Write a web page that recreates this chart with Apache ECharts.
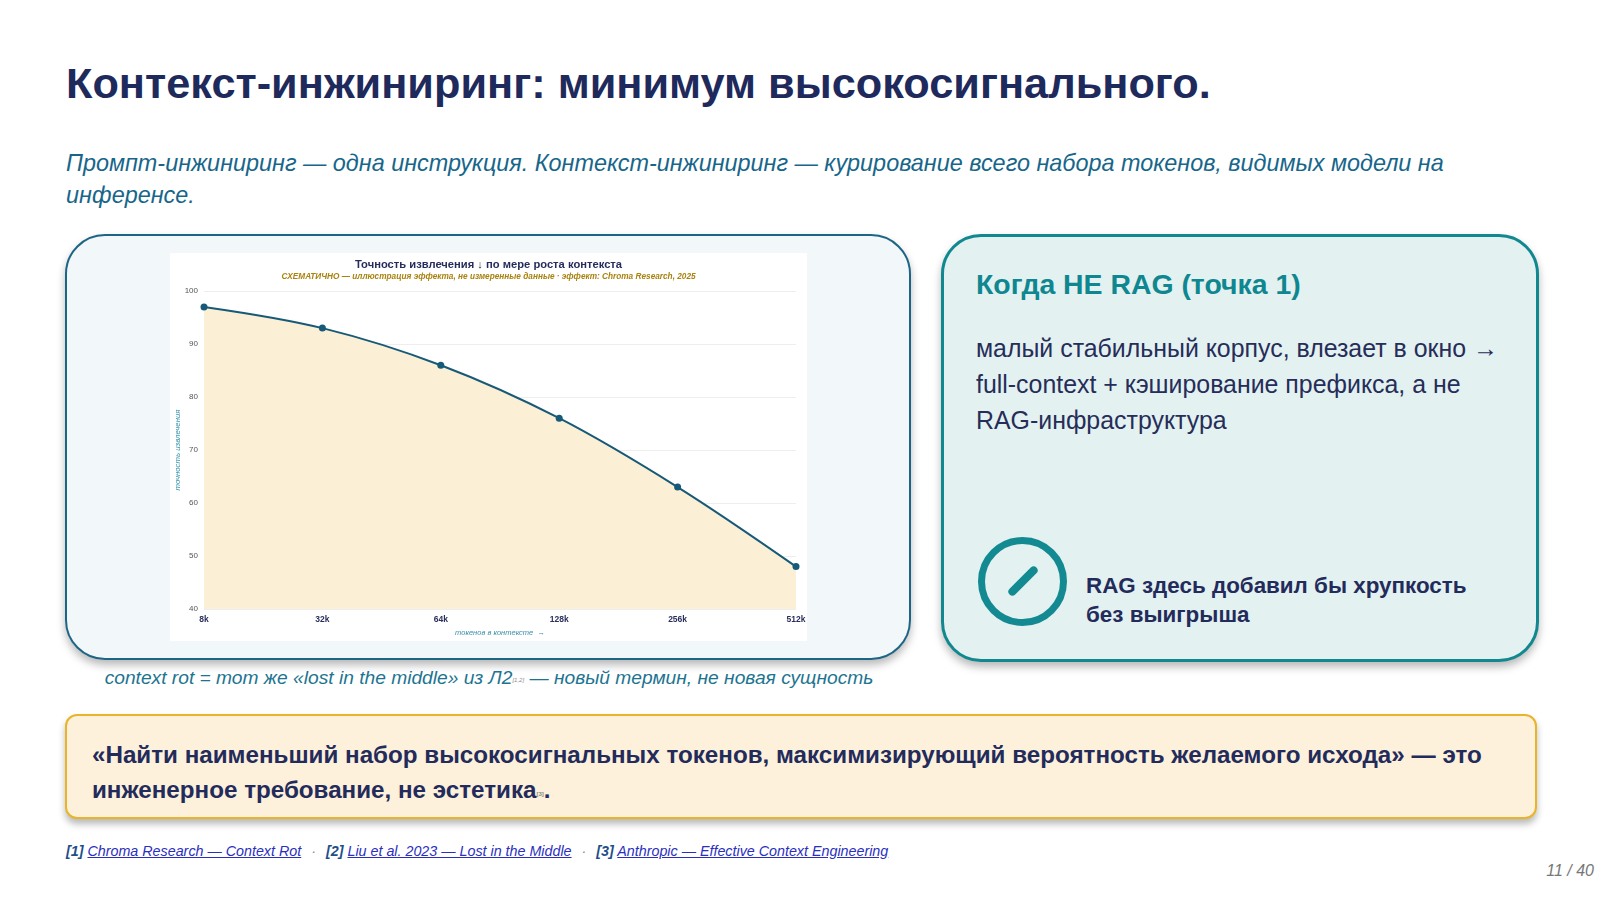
<!DOCTYPE html>
<html>
<head>
<meta charset="utf-8">
<script src="https://cdn.jsdelivr.net/npm/echarts@6/dist/echarts.min.js"></script>
<style>
  html, body { margin: 0; padding: 0; background: #fff; }
  body { width: 1600px; height: 900px; position: relative; overflow: hidden;
         font-family: "Liberation Sans", Arial, sans-serif; }
  .abs { position: absolute; white-space: nowrap; }
  #title { left: 66px; top: 59px; font-size: 43.3px; font-weight: bold; color: #1f2a5c; }
  #lead { left: 66px; top: 147px; font-size: 23.4px; font-style: italic; color: #17668a; line-height: 32px; }
  #cardL { left: 65px; top: 234px; width: 842px; height: 422px; border: 2.5px solid #1d6585;
           border-radius: 40px; background: #f2f7fa; box-shadow: 0 5px 8px rgba(0,0,0,0.28); }
  #chart { left: 170px; top: 253px; width: 637px; height: 388px; background: #fff; }
  #cap { left: 0; width: 978px; text-align: center; top: 667px; font-size: 19.2px; font-style: italic; color: #1d7490; }
  #cardR { left: 941px; top: 234px; width: 592px; height: 422px; border: 3px solid #118890;
           border-radius: 40px; background: #e3f1f1; box-shadow: 0 5px 8px rgba(0,0,0,0.28); }
  #rh { left: 976px; top: 268px; font-size: 28.4px; font-weight: bold; color: #0f8790; }
  #rb { left: 976px; top: 330px; font-size: 24.9px; color: #262d58; line-height: 36px; }
  #icon { left: 978px; top: 537px; width: 75px; height: 75px; border: 7px solid #138a92; border-radius: 50%; }
  #slash { left: 1018.5px; top: 562px; width: 8px; height: 38px; background: #138a92; border-radius: 4px;
           transform: rotate(45deg); }
  #it { left: 1086px; top: 571px; font-size: 22.4px; font-weight: bold; color: #232b5a; line-height: 29px; }
  #quote { left: 65px; top: 714px; width: 1468px; height: 101px; border: 2.5px solid #e8b52a;
           border-radius: 12px; background: #fdf1dc; box-shadow: 0 5px 7px rgba(0,0,0,0.28); }
  #qt { left: 92px; top: 737px; font-size: 24.2px; font-weight: bold; color: #232b5a; line-height: 35px; }
  #refs { left: 66px; top: 843px; font-size: 14.3px; font-style: italic; color: #2a2fb0; }
  #refs b { color: #1d4f8a; }
  #refs a { color: #2a2fc0; text-decoration: underline; }
  #refs .sep { color: #888; margin: 0 10px; }
  #page { right: 6px; top: 862px; font-size: 16px; font-style: italic; color: #777; }
  sup { font-size: 6px; color: #888; vertical-align: 2px; }
</style>
</head>
<body>
<div class="abs" id="title">Контекст-инжиниринг: минимум высокосигнального.</div>
<div class="abs" id="lead">Промпт-инжиниринг — одна инструкция. Контекст-инжиниринг — курирование всего набора токенов, видимых модели на<br>инференсе.</div>

<div class="abs" id="cardL"></div>
<div class="abs" id="chart"></div>
<div class="abs" id="cap">context rot = тот же «lost in the middle» из Л2<sup>[1,2]</sup> — новый термин, не новая сущность</div>

<div class="abs" id="cardR"></div>
<div class="abs" id="rh">Когда НЕ RAG (точка 1)</div>
<div class="abs" id="rb">малый стабильный корпус, влезает в окно →<br>full-context + кэширование префикса, а не<br>RAG-инфраструктура</div>
<div class="abs" id="icon"></div>
<div class="abs" id="slash"></div>
<div class="abs" id="it">RAG здесь добавил бы хрупкость<br>без выигрыша</div>

<div class="abs" id="quote"></div>
<div class="abs" id="qt">«Найти наименьший набор высокосигнальных токенов, максимизирующий вероятность желаемого исхода» — это<br>инженерное требование, не эстетика<sup>[3]</sup>.</div>

<div class="abs" id="refs"><b>[1]</b> <a>Chroma Research — Context Rot</a><span class="sep">·</span><b>[2]</b> <a>Liu et al. 2023 — Lost in the Middle</a><span class="sep">·</span><b>[3]</b> <a>Anthropic — Effective Context Engineering</a></div>
<div class="abs" id="page">11 / 40</div>

<script>
// данные графика
var contextSizes = ['8k', '32k', '64k', '128k', '256k', '512k'];
var accuracy = [97, 93, 86, 76, 63, 48];

var chart = echarts.init(document.getElementById('chart'));

var option = {
    animation: false,
    title: [
        {
            text: 'Точность извлечения ↓ по мере роста контекста',
            left: 'center',
            top: 1,
            textStyle: { fontSize: 11.2, fontWeight: 'bold', color: '#262d5c', fontFamily: 'Liberation Sans' }
        },
        {
            text: 'СХЕМАТИЧНО — иллюстрация эффекта, не измеренные данные · эффект: Chroma Research, 2025',
            left: 'center',
            top: 15,
            textStyle: { fontSize: 8.25, fontWeight: 'bold', fontStyle: 'italic', color: '#a9820f', fontFamily: 'Liberation Sans' }
        }
    ],
    grid: { left: 34, right: 11, top: 38, bottom: 32, containLabel: false, outerBoundsMode: 'none' },
    xAxis: {
        type: 'category',
        data: contextSizes,
        boundaryGap: false,
        axisLine: { show: false },
        axisTick: { show: false },
        axisLabel: { fontSize: 8.5, fontWeight: 'bold', color: '#2a2f5c', margin: 6 },
        name: 'токенов в контексте  →',
        nameLocation: 'middle',
        nameGap: 20,
        nameMoveOverlap: false,
        nameTextStyle: { fontSize: 7.5, fontStyle: 'italic', color: '#3a8fa6' }
    },
    yAxis: {
        type: 'value',
        min: 40,
        max: 100,
        interval: 10,
        axisLine: { show: false },
        axisTick: { show: false },
        axisLabel: { fontSize: 8, color: '#555', margin: 6 },
        splitLine: { lineStyle: { color: '#eeeeee', width: 1 } },
        name: 'точность извлечения',
        nameLocation: 'middle',
        nameGap: 22,
        nameMoveOverlap: false,
        nameTextStyle: { fontSize: 7.8, fontStyle: 'italic', color: '#3592a8' }
    },
    series: [
        {
            type: 'line',
            data: accuracy,
            smooth: 0.35,
            symbol: 'circle',
            symbolSize: 7,
            lineStyle: { color: '#175a78', width: 2 },
            itemStyle: { color: '#175a78' },
            areaStyle: { color: '#fbefd6', opacity: 1 }
        }
    ]
};

chart.setOption(option);
</script>
</body>
</html>
